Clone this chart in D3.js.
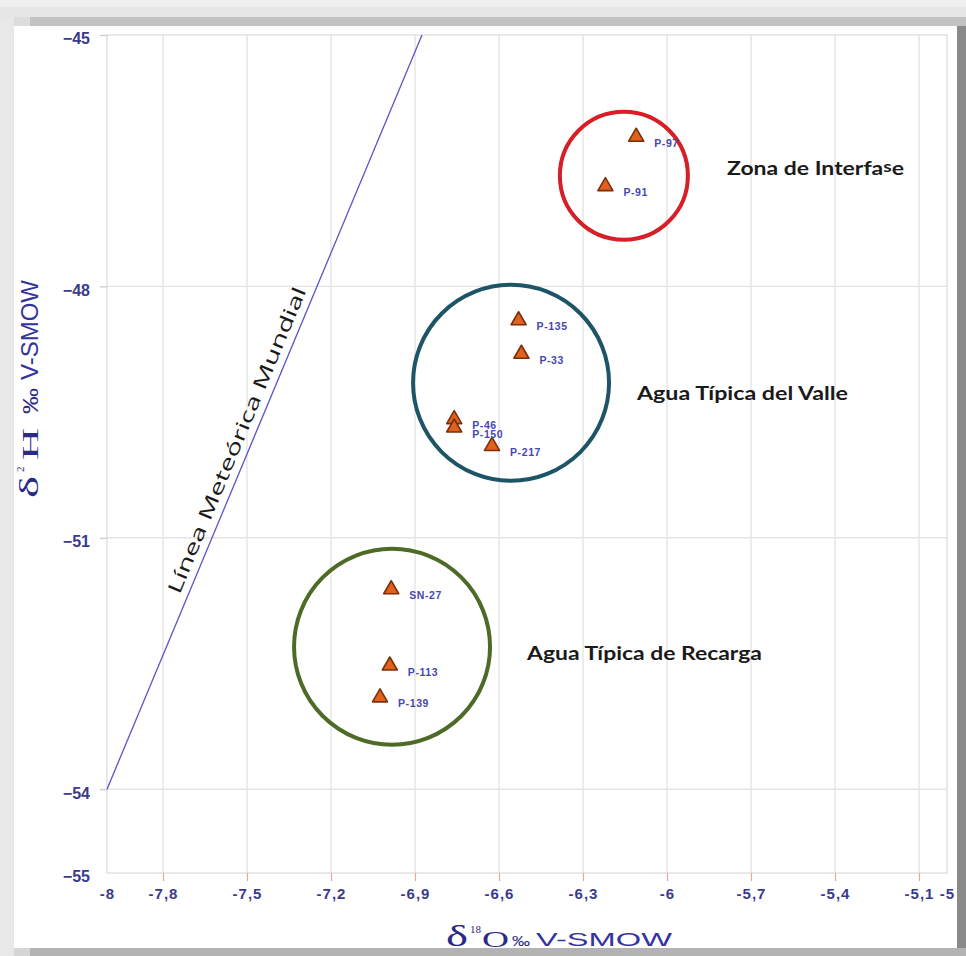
<!DOCTYPE html>
<html><head><meta charset="utf-8">
<script src="https://cdn.jsdelivr.net/npm/d3@7"></script>
<style>html,body{margin:0;padding:0;background:#fff}svg{display:block}</style>
</head><body>
<script>
// Stable isotope samples (δ18O, δ2H, ‰ V-SMOW)
const samples = ["P-97", "P-91", "P-135", "P-33", "P-46", "P-150", "P-217", "SN-27", "P-113", "P-139"];
const d18O = [-6.11, -6.22, -6.53, -6.52, -6.76, -6.76, -6.625, -6.985, -6.99, -7.025];
const d2H = [-46.19, -46.78, -48.38, -48.78, -49.56, -49.66, -49.88, -51.59, -52.50, -52.88];

// Axis ticks and labels
const xTicks = [-8, -7.8, -7.5, -7.2, -6.9, -6.6, -6.3, -6, -5.7, -5.4, -5.1, -5];
const xTickLabels = ["-8", "-7,8", "-7,5", "-7,2", "-6,9", "-6,6", "-6,3", "-6", "-5,7", "-5,4", "-5,1", "-5"];
const xGrid = [-7.8, -7.5, -7.2, -6.9, -6.6, -6.3, -6, -5.7, -5.4, -5.1];
const yTicks = [-45, -48, -51, -54, -55];
const yGrid = [-48, -51, -54];

// Water groups (centre in δ18O / δ2H)
const groupNames = ["Zona de Interfase", "Agua Típica del Valle", "Agua Típica de Recarga"];
const groupX = [-6.154, -6.557, -6.982];
const groupY = [-46.68, -49.15, -52.30];
const groupColors = ["#d71f27", "#1d5566", "#4d6b26"];

// Global meteoric water line: δ2H = 8·δ18O + 10
const gmwlSlope = 8, gmwlIntercept = 10;
const gmwlLabel = "Línea Meteórica Mundial";

const W = 966, H = 956;
const svg = d3.select("body").append("svg").attr("width", W).attr("height", H)
  .style("font-family", "Liberation Sans, Arial, sans-serif");

// page frame
svg.append("rect").attr("width", W).attr("height", H).attr("fill", "#efefef");
svg.append("rect").attr("x", 0).attr("y", 7).attr("width", W).attr("height", 11).attr("fill", "#e6e6e6");
svg.append("rect").attr("x", 30).attr("y", 17).attr("width", W - 30).attr("height", 9).attr("fill", "#c2c2c2");
svg.append("rect").attr("x", 14).attr("y", 17).attr("width", 16).attr("height", 9).attr("fill", "#dcdcdc");
svg.append("rect").attr("x", 0).attr("y", 18).attr("width", 14).attr("height", H).attr("fill", "#e8e8e8");
svg.append("rect").attr("x", 957).attr("y", 26).attr("width", 9).attr("height", H).attr("fill", "#8a8a8a");
svg.append("rect").attr("x", 30).attr("y", 948).attr("width", W).attr("height", 8).attr("fill", "#b3b3b3");
svg.append("rect").attr("x", 14).attr("y", 948).attr("width", 16).attr("height", 8).attr("fill", "#d6d6d6");
svg.append("rect").attr("x", 14).attr("y", 26).attr("width", 943).attr("height", 922).attr("fill", "#ffffff");

const x = d3.scaleLinear().domain([-8, -5]).range([107, 947]);
const y = d3.scaleLinear().domain([-55, -45]).range([873, 35]);

// grid
svg.append("g").selectAll("line").data(xGrid).join("line")
  .attr("x1", d => x(d)).attr("x2", d => x(d)).attr("y1", y(-45)).attr("y2", y(-55))
  .attr("stroke", "#e4e4e4").attr("stroke-width", 1.4);
svg.append("g").selectAll("line").data(yGrid).join("line")
  .attr("x1", x(-8)).attr("x2", x(-5)).attr("y1", d => y(d)).attr("y2", d => y(d))
  .attr("stroke", "#e4e4e4").attr("stroke-width", 1.4);
svg.append("rect").attr("x", x(-8)).attr("y", y(-45))
  .attr("width", x(-5) - x(-8)).attr("height", y(-55) - y(-45))
  .attr("fill", "none").attr("stroke", "#dadada").attr("stroke-width", 1.2);

// x axis
const xAxis = d3.axisBottom(x).tickValues(xTicks)
  .tickFormat((d, i) => xTickLabels[i]).tickSizeOuter(0).tickSize(8).tickPadding(9);
const gx = svg.append("g").attr("transform", `translate(0,${y(-55)})`).call(xAxis);
gx.select(".domain").remove();
gx.selectAll(".tick line").attr("stroke", "#e9a3a0").attr("stroke-width", 1.2);
gx.selectAll(".tick text").attr("fill", "#3b3a8c").attr("font-size", 15)
  .attr("font-weight", "bold").attr("letter-spacing", "1px").attr("dy", "0.6em");
gx.selectAll(".tick").filter(d => d === -8 || d === -5).select("line").remove();

// y axis
const yAxis = d3.axisLeft(y).tickValues(yTicks).tickFormat(d3.format("d")).tickSizeOuter(0).tickSize(7).tickPadding(10);
const gy = svg.append("g").attr("transform", `translate(${x(-8)},0)`).call(yAxis);
gy.select(".domain").remove();
gy.selectAll(".tick line").attr("stroke", "#c8c8c8").attr("stroke-width", 1.2);
gy.selectAll(".tick").filter(d => d === -55).select("line").remove();
gy.selectAll(".tick text").attr("fill", "#3b3a8c").attr("font-size", 16)
  .attr("font-weight", "bold").attr("dy", "0.55em");

// meteoric water line
const gx0 = -8, gx1 = (-45 - gmwlIntercept) / gmwlSlope;
svg.append("line")
  .attr("x1", x(gx0)).attr("y1", y(gmwlSlope * gx0 + gmwlIntercept))
  .attr("x2", x(gx1)).attr("y2", y(gmwlSlope * gx1 + gmwlIntercept))
  .attr("stroke", "#5a56c8").attr("stroke-width", 1.3);
const ang = Math.atan2(y(gmwlSlope * gx1 + gmwlIntercept) - y(gmwlSlope * gx0 + gmwlIntercept), x(gx1) - x(gx0)) * 180 / Math.PI;
const lx = -7.715;
svg.append("text")
  .attr("transform", `translate(${x(lx)},${y(gmwlSlope * lx + gmwlIntercept)}) rotate(${ang})`)
  .attr("dy", -8).attr("font-family", "Open Sans, Lato, sans-serif").attr("font-size", 19)
  .attr("fill", "#1a1a1a").attr("textLength", 330).attr("lengthAdjust", "spacingAndGlyphs")
  .text(gmwlLabel);

// group circles
svg.append("g").selectAll("circle").data(groupNames).join("circle")
  .attr("cx", (d, i) => x(groupX[i])).attr("cy", (d, i) => y(groupY[i]))
  .attr("r", (d, i) => i === 0 ? 64 : 98)
  .attr("fill", "none").attr("stroke", (d, i) => groupColors[i]).attr("stroke-width", 4);

// group labels
const groupLabelPos = [[727, 175, 177], [637, 400, 211], [527, 660, 235]];
const gl = svg.append("g").selectAll("text").data(groupNames).join("text")
  .attr("x", (d, i) => groupLabelPos[i][0]).attr("y", (d, i) => groupLabelPos[i][1])
  .attr("textLength", (d, i) => groupLabelPos[i][2]).attr("lengthAdjust", "spacingAndGlyphs")
  .attr("font-family", "Lato, Open Sans, sans-serif").attr("font-weight", "bold")
  .attr("font-size", 18).attr("fill", "#1a1a1a");
gl.each(function (d) {
  const t = d3.select(this);
  // the "s" of "Interfase" is set slightly raised and smaller
  const k = d.lastIndexOf("se");
  if (d.startsWith("Zona") && k > 0) {
    t.append("tspan").text(d.slice(0, k));
    t.append("tspan").attr("dy", -3).attr("font-size", 15).text("s");
    t.append("tspan").attr("dy", 3).text(d.slice(k + 1));
  } else {
    t.text(d);
  }
});

// sample markers
const pts = samples.map((s, i) => ({ name: s, x: d18O[i], y: d2H[i] }));
const tri = "M0,-6.5L7.5,6.5L-7.5,6.5Z";
svg.append("g").selectAll("path").data(pts).join("path")
  .attr("d", tri).attr("transform", d => `translate(${x(d.x)},${y(d.y)})`)
  .attr("fill", "#e0621c").attr("stroke", "#7a2f0c").attr("stroke-width", 1.6)
  .attr("stroke-linejoin", "round");
svg.append("g").selectAll("text").data(pts).join("text")
  .attr("x", d => x(d.x) + 18).attr("y", d => y(d.y) + 12)
  .attr("font-size", 10.5).attr("font-weight", "bold").attr("fill", "#4747b0")
  .attr("letter-spacing", "0.6px").text(d => d.name);

// x axis title: δ18O ‰ V-SMOW
const xt = svg.append("g").attr("fill", "#2b2a85");
xt.append("text").attr("x", 446).attr("y", 946).attr("font-family", "Liberation Serif, Times New Roman, serif")
  .attr("font-size", 29).attr("textLength", 22).attr("lengthAdjust", "spacingAndGlyphs").text("δ");
xt.append("text").attr("x", 470).attr("y", 933).attr("font-family", "Liberation Serif, serif")
  .attr("font-size", 11).text("18");
xt.append("text").attr("x", 482).attr("y", 947).attr("font-family", "Liberation Serif, serif")
  .attr("font-size", 23).attr("textLength", 27).attr("lengthAdjust", "spacingAndGlyphs").text("O");
xt.append("text").attr("x", 512).attr("y", 946).attr("font-size", 14)
  .attr("textLength", 18).attr("lengthAdjust", "spacingAndGlyphs").text("‰");
xt.append("text").attr("x", 536).attr("y", 946).attr("font-size", 18).attr("fill", "#3434a0")
  .attr("textLength", 136).attr("lengthAdjust", "spacingAndGlyphs").text("V-SMOW");

// y axis title: δ2H ‰ V-SMOW (rotated)
const yt = svg.append("g").attr("fill", "#2b2a85").attr("transform", "translate(38,0) rotate(-90)");
yt.append("text").attr("x", -498).attr("y", 0).attr("font-family", "Liberation Serif, serif")
  .attr("font-size", 28).attr("textLength", 22).attr("lengthAdjust", "spacingAndGlyphs").text("δ");
yt.append("text").attr("x", -472).attr("y", -14).attr("font-family", "Liberation Serif, serif")
  .attr("font-size", 11).text("2");
yt.append("text").attr("x", -460).attr("y", 0).attr("font-family", "Liberation Serif, serif")
  .attr("font-size", 24).attr("textLength", 32).attr("lengthAdjust", "spacingAndGlyphs").text("H");
yt.append("text").attr("x", -414).attr("y", 0).attr("font-size", 22)
  .attr("textLength", 26).attr("lengthAdjust", "spacingAndGlyphs").text("‰");
yt.append("text").attr("x", -380).attr("y", 0).attr("font-size", 24).attr("fill", "#3434a0")
  .attr("textLength", 100).attr("lengthAdjust", "spacingAndGlyphs").text("V-SMOW");
</script>
</body></html>
